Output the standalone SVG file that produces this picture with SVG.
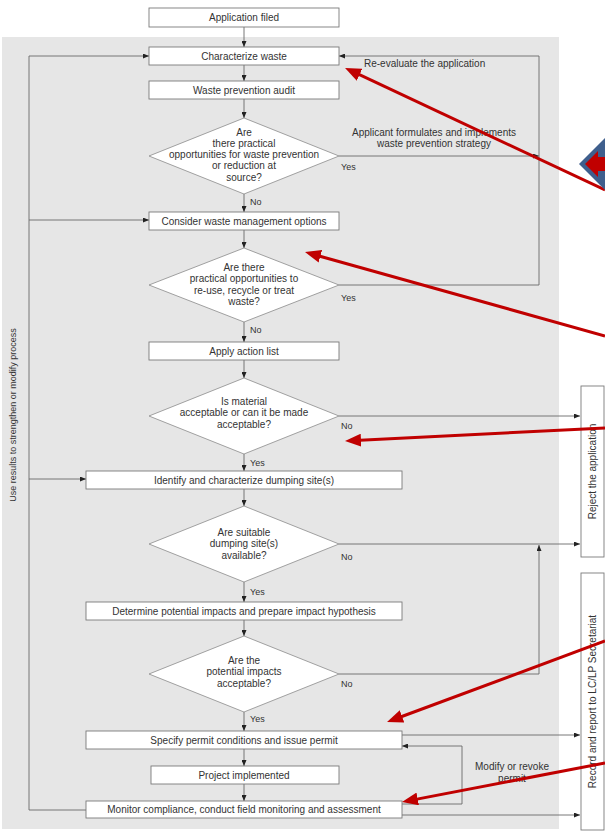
<svg xmlns="http://www.w3.org/2000/svg" width="605" height="836" viewBox="0 0 605 836">
<defs>
<style>
.box{fill:#fff;stroke:#7a7a7a;stroke-width:0.9}
.dia{fill:#fff;stroke:#8a8a8a;stroke-width:0.8}
.t{font-family:"Liberation Sans",Arial,sans-serif;font-size:10px;fill:#333;text-anchor:middle}
.l{font-family:"Liberation Sans",Arial,sans-serif;font-size:9px;fill:#333}
.c{fill:none;stroke:#6a6a6a;stroke-width:0.9}
.red{fill:none;stroke:#c00000;stroke-width:3}
</style>
<marker id="ah" viewBox="0 0 6 5" refX="6" refY="2.5" markerWidth="6" markerHeight="5" markerUnits="userSpaceOnUse" orient="auto">
<path d="M0,0 L6,2.5 L0,5 z" fill="#222"/>
</marker>
<marker id="rh" viewBox="0 0 16 13" refX="6" refY="6.5" markerWidth="16" markerHeight="13" markerUnits="userSpaceOnUse" orient="auto">
<path d="M0,0 L16,6.5 L0,13 z" fill="#c00000"/>
</marker>
</defs>

<rect x="2" y="37" width="557" height="792" fill="#e6e6e6"/>

<g id="connectors">
<path class="c" d="M244,27 V47" marker-end="url(#ah)"/>
<path class="c" d="M244,65 V81" marker-end="url(#ah)"/>
<path class="c" d="M244,99 V118" marker-end="url(#ah)"/>
<path class="c" d="M244,194 V212" marker-end="url(#ah)"/>
<path class="c" d="M244,230 V248" marker-end="url(#ah)"/>
<path class="c" d="M244,322 V342" marker-end="url(#ah)"/>
<path class="c" d="M244,360 V378" marker-end="url(#ah)"/>
<path class="c" d="M244,454 V471" marker-end="url(#ah)"/>
<path class="c" d="M244,489 V506" marker-end="url(#ah)"/>
<path class="c" d="M244,582 V602" marker-end="url(#ah)"/>
<path class="c" d="M244,620 V636" marker-end="url(#ah)"/>
<path class="c" d="M244,712 V731" marker-end="url(#ah)"/>
<path class="c" d="M244,749 V766" marker-end="url(#ah)"/>
<path class="c" d="M244,784 V801" marker-end="url(#ah)"/>
<path class="c" d="M339,156 H539" marker-end="url(#ah)"/>
<path class="c" d="M339,285 H539 V56 H339" marker-end="url(#ah)"/>
<path class="c" d="M339,416 H580" marker-end="url(#ah)"/>
<path class="c" d="M339,544 H580" marker-end="url(#ah)"/>
<path class="c" d="M339,674 H539 V545" marker-end="url(#ah)"/>
<path class="c" d="M402,735 H580" marker-end="url(#ah)"/>
<path class="c" d="M402,815 H580" marker-end="url(#ah)"/>
<path class="c" d="M402,804 H462 V746 H402" marker-end="url(#ah)"/>
<path class="c" d="M86,810 H29 V56 H149" marker-end="url(#ah)"/>
<path class="c" d="M29,220 H149" marker-end="url(#ah)"/>
<path class="c" d="M29,479 H86" marker-end="url(#ah)"/>
</g>

<g id="labels">
<text class="l" x="250" y="205">No</text>
<text class="l" x="341" y="170">Yes</text>
<text class="l" x="341" y="301">Yes</text>
<text class="l" x="250" y="333">No</text>
<text class="l" x="341" y="429">No</text>
<text class="l" x="250" y="466">Yes</text>
<text class="l" x="341" y="560">No</text>
<text class="l" x="250" y="595">Yes</text>
<text class="l" x="341" y="687">No</text>
<text class="l" x="250" y="722">Yes</text>
<text class="t" x="364" y="67" style="text-anchor:start">Re-evaluate the application</text>
<text class="t" x="434" y="135.5">Applicant formulates and implements</text>
<text class="t" x="434" y="147">waste prevention strategy</text>
<text class="t" x="512" y="770">Modify or revoke</text>
<text class="t" x="512" y="782">permit</text>
<text class="l" transform="translate(16,415) rotate(-90)" style="text-anchor:middle">Use results to strengthen or modify process</text>
</g>

<g id="n-application"><rect class="box" x="149" y="8" width="190" height="19"/><text class="t" x="244" y="21">Application filed</text></g>
<g id="n-characterize"><rect class="box" x="149" y="47" width="190" height="18"/><text class="t" x="244" y="59.5">Characterize waste</text></g>
<g id="n-audit"><rect class="box" x="149" y="81" width="190" height="18"/><text class="t" x="244" y="93.5">Waste prevention audit</text></g>
<g id="n-d1"><path class="dia" d="M244,118 L339,156 L244,194 L149,156 Z"/>
<text class="t" x="244" y="135.5">Are</text><text class="t" x="244" y="146.8">there practical</text><text class="t" x="244" y="158.1">opportunities for waste prevention</text><text class="t" x="244" y="169.4">or reduction at</text><text class="t" x="244" y="180.7">source?</text></g>
<g id="n-consider"><rect class="box" x="149" y="212" width="190" height="18"/><text class="t" x="244" y="224.5">Consider waste management options</text></g>
<g id="n-d2"><path class="dia" d="M244,248 L339,285 L244,322 L149,285 Z"/>
<text class="t" x="244" y="270.5">Are there</text><text class="t" x="244" y="282">practical opportunities to</text><text class="t" x="244" y="293.5">re-use, recycle or treat</text><text class="t" x="244" y="305">waste?</text></g>
<g id="n-apply"><rect class="box" x="149" y="342" width="190" height="18"/><text class="t" x="244" y="354.5">Apply action list</text></g>
<g id="n-d3"><path class="dia" d="M244,378 L339,416 L244,454 L149,416 Z"/>
<text class="t" x="244" y="404.5">Is material</text><text class="t" x="244" y="416">acceptable or can it be made</text><text class="t" x="244" y="427.5">acceptable?</text></g>
<g id="n-identify"><rect class="box" x="86" y="471" width="316" height="18"/><text class="t" x="244" y="483.5">Identify and characterize dumping site(s)</text></g>
<g id="n-d4"><path class="dia" d="M244,506 L339,544 L244,582 L149,544 Z"/>
<text class="t" x="244" y="535.5">Are suitable</text><text class="t" x="244" y="547">dumping site(s)</text><text class="t" x="244" y="558.5">available?</text></g>
<g id="n-determine"><rect class="box" x="86" y="602" width="316" height="18"/><text class="t" x="244" y="614.5">Determine potential impacts and prepare impact hypothesis</text></g>
<g id="n-d5"><path class="dia" d="M244,636 L339,674 L244,712 L149,674 Z"/>
<text class="t" x="244" y="663.5">Are the</text><text class="t" x="244" y="675">potential impacts</text><text class="t" x="244" y="686.5">acceptable?</text></g>
<g id="n-specify"><rect class="box" x="86" y="731" width="316" height="18"/><text class="t" x="244" y="743.5">Specify permit conditions and issue permit</text></g>
<g id="n-project"><rect class="box" x="151" y="766" width="188" height="18"/><text class="t" x="244" y="778.5">Project implemented</text></g>
<g id="n-monitor"><rect class="box" x="86" y="801" width="316" height="17"/><text class="t" x="244" y="813">Monitor compliance, conduct field monitoring and assessment</text></g>
<g id="n-reject"><rect class="box" x="581" y="386" width="23" height="171"/><text class="t" transform="translate(596,471.5) rotate(-90)">Reject the application</text></g>
<g id="n-record"><rect class="box" x="581" y="573" width="23" height="257"/><text class="t" transform="translate(596,701.5) rotate(-90)">Record and report to LC/LP Secretariat</text></g>

<g id="annotations">
<path class="red" d="M605,190 L354.1,72.2" marker-end="url(#rh)"/>
<path class="red" d="M605,336 L314.6,254.7" marker-end="url(#rh)"/>
<path class="red" d="M605,428 L355,440.5" marker-end="url(#rh)"/>
<path class="red" d="M605,641 L396.4,718.5" marker-end="url(#rh)"/>
<path class="red" d="M605,763 L411.8,800.1" marker-end="url(#rh)"/>
<path d="M579,164 L605,138 L631,164 L605,190 Z" fill="#3f5f8d"/>
<path d="M585,164 L598,151 L598,157 L606,157 L606,171 L598,171 L598,177 Z" fill="#c00000"/>
</g>
</svg>
